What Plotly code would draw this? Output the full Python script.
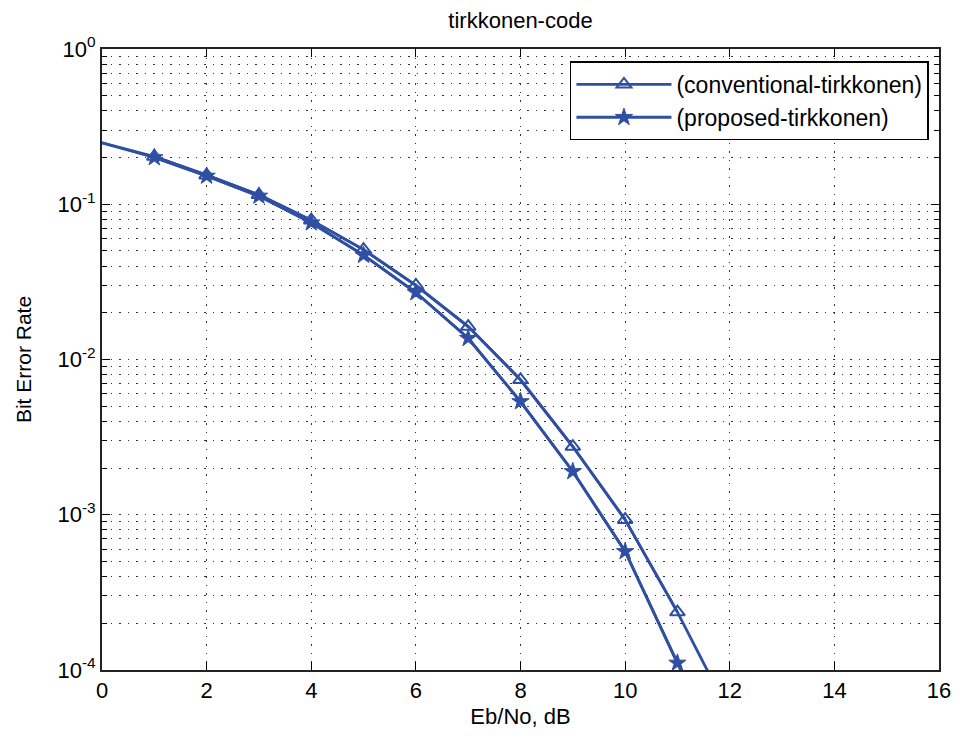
import plotly.graph_objects as go

# Data
ebno = [0, 1, 2, 3, 4, 5, 6, 7, 8, 9, 10, 11, 12]
ber_conventional = [0.249, 0.203, 0.154, 0.115, 0.079, 0.051, 0.030, 0.0163, 0.0074, 0.00275, 0.00093, 0.000236, 0.000052]
ber_proposed = [0.249, 0.200, 0.152, 0.113, 0.076, 0.047, 0.027, 0.0137, 0.00536, 0.0019, 0.00058, 0.000111, 0.000021]
marker_idx = list(range(1, 12))  # markers drawn at Eb/No = 1..11

x_ticks = [0, 2, 4, 6, 8, 10, 12, 14, 16]
y_ticks = [1e-4, 1e-3, 1e-2, 1e-1, 1]
y_ticklabels = ["10<sup>-4</sup>", "10<sup>-3</sup>", "10<sup>-2</sup>", "10<sup>-1</sup>", "10<sup>0</sup>"]
y_minor = [k * 10.0 ** e for e in range(-4, 0) for k in range(2, 10)]

color = "#2f4fa3"
font = "Liberation Sans, Arial, sans-serif"

fig = go.Figure()

series = [
    ("(conventional-tirkkonen)", ber_conventional, dict(symbol="triangle-up-open", size=13, line=dict(width=2, color=color), color=color)),
    ("(proposed-tirkkonen)", ber_proposed, dict(symbol="star", size=13, line=dict(width=1, color=color), color=color)),
]

for name, ys, mk in series:
    fig.add_trace(go.Scatter(x=ebno, y=ys, mode="lines", line=dict(color=color, width=2.8),
                             showlegend=False, hoverinfo="skip"))
    fig.add_trace(go.Scatter(x=[ebno[i] for i in marker_idx], y=[ys[i] for i in marker_idx],
                             mode="lines+markers", name=name, line=dict(color=color, width=2.8),
                             marker=mk))

grid_dash = "1.5px,7px"
grid_color = "#333"
fig.update_layout(
    width=963, height=738,
    paper_bgcolor="white", plot_bgcolor="white",
    margin=dict(l=102, r=15, t=49, b=68),
    font=dict(family=font, size=21, color="black"),
    title=dict(text="tirkkonen-code", x=0.5, xanchor="center", xref="paper", y=0.973, yanchor="middle",
               font=dict(size=22, family=font, color="black")),
    showlegend=True,
    legend=dict(x=0.988, xanchor="right", y=0.98, yanchor="top", bgcolor="white",
                bordercolor="black", borderwidth=1.5, font=dict(size=23, family=font),
                itemwidth=95, tracegroupgap=0),
    xaxis=dict(range=[0, 16], tickvals=x_ticks, ticks="inside", ticklen=8, tickcolor="black",
               showline=True, linecolor="#222", linewidth=2, mirror="allticks",
               showgrid=True, gridcolor=grid_color, gridwidth=1, griddash=grid_dash, zeroline=False,
               title=dict(text="Eb/No, dB", font=dict(size=22), standoff=6),
               tickfont=dict(size=22)),
    yaxis=dict(type="log", range=[-4, 0], tickvals=y_ticks, ticktext=y_ticklabels,
               ticks="inside", ticklen=8, tickcolor="black",
               showline=True, linecolor="#222", linewidth=2, mirror="allticks",
               showgrid=True, gridcolor=grid_color, gridwidth=1, griddash=grid_dash, zeroline=False,
               title=dict(text="Bit Error Rate", font=dict(size=21), standoff=20),
               tickfont=dict(size=22),
               minor=dict(tickmode="array", tickvals=y_minor, ticks="inside", ticklen=5, tickcolor="black",
                          showgrid=True, gridcolor=grid_color, gridwidth=1, griddash=grid_dash)),
)

fig.write_html("out.html")
